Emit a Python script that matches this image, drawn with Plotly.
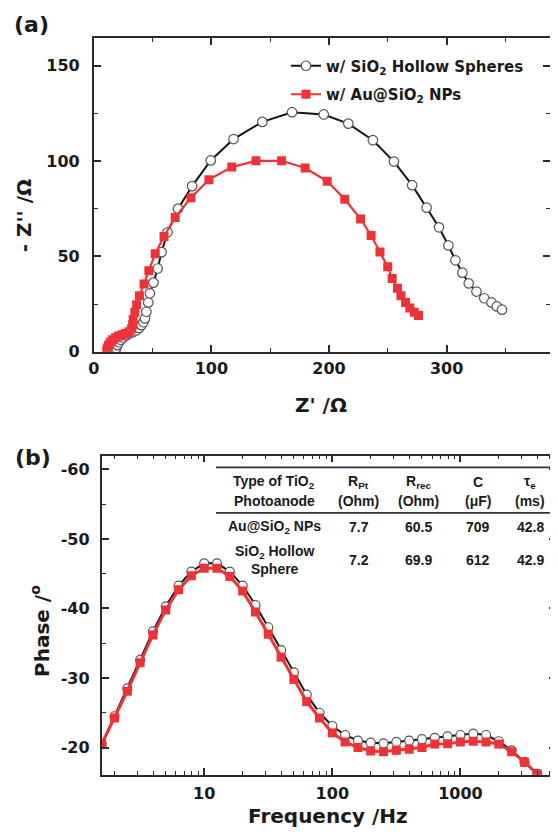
import plotly.graph_objects as go

# ---------------- data : panel (a) Nyquist ----------------
hollow_zre = [18.5, 19, 20, 21.5, 23, 25, 27.5, 30, 33, 36, 38.5, 40.5, 42.2, 43.5, 44.7, 46.3,
              47.7, 50.7, 54.3, 57.6, 62.7, 71.6, 83.6, 99.4, 118.8, 143.3, 168.6, 195.5, 216.4,
              237.3, 255.2, 270.7, 283, 293.5, 301.5, 307.5, 313.4, 318.8, 325.4, 332, 338.2,
              342.7, 347.1]
hollow_zim = [0.5, 2, 3.5, 5, 6.3, 7.5, 8.6, 9.5, 10.3, 11.2, 12.5, 14, 15.5, 17.5, 21, 25.9,
              30.7, 36.3, 43.7, 52.3, 62.7, 75.1, 86.9, 100.4, 111.6, 120.6, 125.7, 124.5, 119.7,
              111, 99.8, 87.4, 75.6, 65.3, 55.8, 48, 41.5, 35.9, 31.6, 28.1, 25.9, 23.8, 22.1]

au_zre = [11, 11.5, 12.5, 14, 16, 18.5, 21, 24, 27, 30, 32, 33, 33.5, 34.9, 36.4, 38.8, 42.7,
          46.8, 52.2, 59.7, 69.2, 82.6, 97.9, 117.3, 137.9, 159.7, 179.7, 198.5, 213.4, 226.9,
          235.8, 243.3, 249.9, 253.7, 258.2, 261.2, 265.1, 268.7, 272.5, 276.1]
au_zim = [0.5, 2, 3.5, 5, 6.3, 7.4, 8.3, 9, 9.6, 10.5, 12, 14, 16.9, 20.7, 24.7, 29.4, 35.6,
          42.5, 51.5, 60.5, 70.5, 80.8, 90.3, 96.9, 100.2, 100.2, 96.4, 89.5, 80, 69.6, 61,
          52.3, 44.6, 38.5, 33.3, 29.4, 25.9, 23, 20.7, 19]

# ---------------- data : panel (b) Bode phase ----------------
freq_hz = [1.585, 1.995, 2.512, 3.162, 3.981, 5.012, 6.310, 7.943, 10.0, 12.59, 15.85, 19.95,
           25.12, 31.62, 39.81, 50.12, 63.10, 79.43, 100.0, 125.9, 158.5, 199.5, 251.2, 316.2,
           398.1, 501.2, 631.0, 794.3, 1000, 1259, 1585, 1995, 2512, 3162, 3981, 5012]
phase_hollow = [-20.5, -24.5, -28.5, -32.6, -36.7, -40.3, -43.3, -45.3, -46.5, -46.5, -45.3,
                -43.3, -40.5, -37.3, -34.0, -30.8, -27.6, -25.0, -23.1, -21.8, -21.0, -20.7,
                -20.6, -20.8, -21.0, -21.2, -21.4, -21.6, -21.8, -22.0, -21.8, -20.9, -19.6,
                -17.9, -16.2, -14.5]
phase_au = [-20.5, -24.25, -28.1, -32.2, -36.2, -39.8, -42.7, -44.7, -45.8, -45.8, -44.6,
            -42.5, -39.5, -36.3, -33.0, -29.8, -26.6, -24.25, -22.1, -20.8, -20.0, -19.5,
            -19.4, -19.6, -19.75, -20.0, -20.5, -20.55, -20.8, -20.9, -20.8, -20.5, -19.4,
            -17.9, -16.2, -14.5]

series_names = ["w/ SiO<sub>2</sub> Hollow Spheres", "w/ Au@SiO<sub>2</sub> NPs"]

nyq_xticks = [0, 100, 200, 300]
nyq_yticks = [0, 50, 100, 150]
bode_xticks = [10, 100, 1000]
bode_xticklabels = ["10", "100", "1000"]
bode_xminor = [2, 3, 4, 5, 6, 7, 8, 9, 20, 30, 40, 50, 60, 70, 80, 90,
               200, 300, 400, 500, 600, 700, 800, 900, 2000, 3000, 4000, 5000]
bode_yticks = [-60, -50, -40, -30, -20]
bode_yticklabels = ["-60", "-50", "-40", "-30", "-20"]

# ---------------- inset table ----------------
table_header_l1 = ["Type of TiO<sub>2</sub>", "R<sub>Pt</sub>", "R<sub>rec</sub>", "C", "τ<sub>e</sub>"]
table_header_l2 = ["Photoanode", "(Ohm)", "(Ohm)", "(μF)", "(ms)"]
table_row1 = ["Au@SiO<sub>2</sub> NPs", "7.7", "60.5", "709", "42.8"]
table_row2 = ["SiO<sub>2</sub> Hollow<br>Sphere", "7.2", "69.9", "612", "42.9"]

# ---------------- layout helpers (page body has an 8px margin) ----------------
OFF = 8
W, H = 558 - OFF, 837 - OFF
def px(x):
    return (x - OFF) / W
def py(y):
    return 1 - (y - OFF) / H

BLACK = "#151515"
RED = "#EE3338"
FRAME = "#2a2a2a"
FONT = "DejaVu Sans"

fig = go.Figure()

# panel (a)
fig.add_trace(go.Scatter(
    x=hollow_zre, y=hollow_zim, mode="lines+markers", name=series_names[0],
    line=dict(color=BLACK, width=2),
    marker=dict(symbol="circle", size=9.5, color="white", line=dict(color="#555555", width=1.2)),
    xaxis="x", yaxis="y", legendgroup="a1"))
fig.add_trace(go.Scatter(
    x=au_zre, y=au_zim, mode="lines+markers", name=series_names[1],
    line=dict(color=RED, width=2.2),
    marker=dict(symbol="square", size=9, color=RED),
    xaxis="x", yaxis="y", legendgroup="a2"))

# panel (b)
fig.add_trace(go.Scatter(
    x=freq_hz, y=phase_hollow, mode="lines+markers", showlegend=False,
    line=dict(color=BLACK, width=2),
    marker=dict(symbol="circle", size=9, color="white", line=dict(color="#555555", width=1.2)),
    xaxis="x2", yaxis="y2"))
fig.add_trace(go.Scatter(
    x=freq_hz, y=phase_au, mode="lines+markers", showlegend=False,
    line=dict(color=RED, width=3),
    marker=dict(symbol="square", size=9, color=RED),
    xaxis="x2", yaxis="y2"))

tickfont = dict(family=FONT, size=16, weight="bold", color="#1a1a1a")
common_axis = dict(showline=True, linecolor=FRAME, linewidth=1.8, mirror="allticks",
                   ticks="inside", ticklen=7, tickwidth=1.5, tickcolor=FRAME,
                   showgrid=False, zeroline=False, tickfont=tickfont)
minor_style = dict(ticks="inside", ticklen=4, tickwidth=1.3, tickcolor=FRAME)

fig.update_layout(
    width=W, height=H, margin=dict(l=0, r=0, t=0, b=0),
    font=dict(family=FONT, size=16, color="#1a1a1a"),
    paper_bgcolor="white", plot_bgcolor="white",
    xaxis=dict(domain=[px(89), px(552)], range=[0, 388], anchor="y",
               tickvals=nyq_xticks, ticklabelstandoff=1,
               minor=dict(dtick=50, tick0=0, **minor_style), **common_axis),
    yaxis=dict(domain=[py(356), py(38)], range=[0, 164.8], anchor="x",
               tickvals=nyq_yticks, ticklabelstandoff=9,
               minor=dict(dtick=25, tick0=0, **minor_style), **common_axis),
    xaxis2=dict(domain=[px(97), 1.0], type="log", range=[0.2, 3.746], anchor="y2",
                tickvals=bode_xticks, ticktext=bode_xticklabels, ticklabelstandoff=3,
                minor=dict(tickvals=bode_xminor, **minor_style), **common_axis),
    yaxis2=dict(domain=[py(784), py(461)], range=[-16.1, -62], anchor="x2",
                tickvals=bode_yticks, ticktext=bode_yticklabels, ticklabelstandoff=7,
                minor=dict(dtick=5, tick0=0, **minor_style), **common_axis),
    legend=dict(x=px(284), y=py(50), xanchor="left", yanchor="top",
                bgcolor="rgba(0,0,0,0)", tracegroupgap=6,
                font=dict(family=FONT, size=15, weight="bold", color="#1a1a1a")),
)

title_font = dict(family=FONT, size=20, weight="bold", color="#1a1a1a")
annotations = [
    dict(text="(a)", x=px(26), y=py(25), font=dict(family=FONT, size=22, weight="bold", color="#1a1a1a")),
    dict(text="(b)", x=px(27), y=py(463), font=dict(family=FONT, size=22, weight="bold", color="#1a1a1a")),
    dict(text="- Z'' /Ω", x=px(19), y=py(218), textangle=-90, font=title_font),
    dict(text="Z' /Ω", x=px(320), y=py(410), font=title_font),
    dict(text="Phase /<sup>o</sup>", x=px(35), y=py(639), textangle=-90, font=title_font),
    dict(text="Frequency /Hz", x=px(327), y=py(826), font=title_font),
]

# table
col_x = [272, 358, 418, 479, 532]
tfont = dict(family="Liberation Sans", size=14, weight="bold", color="#1a1a1a")
for i, cx in enumerate(col_x):
    annotations.append(dict(text=table_header_l1[i], x=px(cx), y=py(488), font=tfont))
    annotations.append(dict(text=table_header_l2[i], x=px(cx), y=py(507), font=tfont))
    annotations.append(dict(text=table_row1[i], x=px(cx), y=py(533), font=tfont))
    annotations.append(dict(text=table_row2[i], x=px(cx), y=py(567), font=tfont))

for a in annotations:
    a.update(xref="paper", yref="paper", showarrow=False, xanchor="center", yanchor="middle")
fig.update_layout(annotations=annotations)

shapes = [
    dict(type="line", xref="paper", yref="paper", x0=px(213), x1=px(553), y0=py(473), y1=py(473),
         line=dict(color="#333333", width=1.8)),
    dict(type="line", xref="paper", yref="paper", x0=px(213), x1=px(553), y0=py(519), y1=py(519),
         line=dict(color="#333333", width=1.8)),
]
fig.update_layout(shapes=shapes)

fig.write_html("out.html")
